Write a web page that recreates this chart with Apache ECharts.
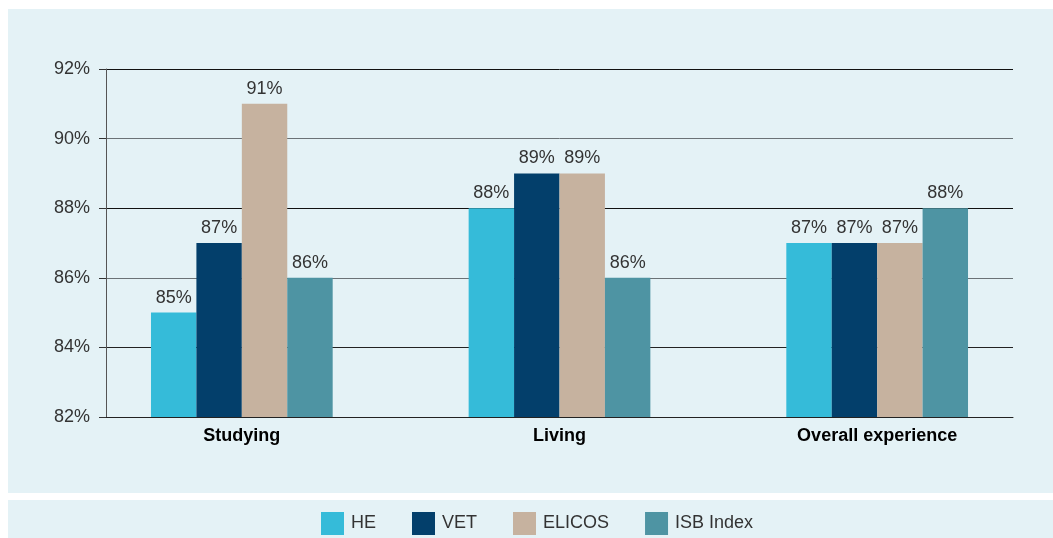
<!DOCTYPE html>
<html>
<head>
<meta charset="utf-8">
<script src="https://cdn.jsdelivr.net/npm/echarts@6/dist/echarts.min.js"></script>
<style>
  html, body { margin: 0; padding: 0; background: #fff; }
  #chart { width: 1053px; height: 538px; }
</style>
</head>
<body>
<div id="chart"></div>
<script>
  var categories = ['Studying', 'Living', 'Overall experience'];
  var seriesNames = ['HE', 'VET', 'ELICOS', 'ISB Index'];
  var heValues = [85, 88, 87];
  var vetValues = [87, 89, 87];
  var elicosValues = [91, 89, 87];
  var isbValues = [86, 86, 88];
  var colors = ['#35bbd9', '#033f6b', '#c6b29f', '#4e94a3'];

  var chart = echarts.init(document.getElementById('chart'));
  var font = '"Liberation Sans", Arial, sans-serif';
  var panel = '#e4f2f6';

  function bar(name, data, color) {
    return {
      name: name,
      type: 'bar',
      xAxisIndex: 1,
      yAxisIndex: 1,
      data: data,
      itemStyle: { color: color },
      barGap: '0%',
      barCategoryGap: '42.8%',
      label: {
        show: true,
        position: 'top',
        distance: 6,
        formatter: '{c}%',
        color: '#333',
        fontSize: 18,
        fontFamily: font
      }
    };
  }

  chart.setOption({
    animation: false,
    backgroundColor: '#fff',
    graphic: [
      { type: 'rect', z: -10, shape: { x: 8, y: 9, width: 1045, height: 484 }, style: { fill: panel } },
      { type: 'rect', z: -10, shape: { x: 8, y: 500, width: 1045, height: 38 }, style: { fill: panel } }
    ],
    grid: [
      { left: 106, right: 40, top: 69, bottom: 121 },
      { left: 83, right: 17, top: 69, bottom: 121 }
    ],
    legend: {
      data: seriesNames,
      left: 316,
      top: 507,
      itemWidth: 23,
      itemHeight: 23,
      itemGap: 36,
      icon: 'rect',
      textStyle: { fontSize: 18, color: '#333', fontFamily: font, padding: [0, 0, 0, 2] }
    },
    xAxis: [
      {
        type: 'value',
        gridIndex: 0,
        min: 0,
        max: 1,
        axisTick: { show: false },
        axisLabel: { show: false },
        splitLine: { show: false },
        axisLine: { show: true, lineStyle: { color: '#222', width: 1 } }
      },
      {
        type: 'category',
        gridIndex: 1,
        data: categories,
        axisTick: { show: false },
        axisLine: { show: false },
        axisLabel: { fontSize: 18, fontWeight: 'bold', color: '#000', fontFamily: font, margin: 10 }
      }
    ],
    yAxis: [
      {
        type: 'value',
        gridIndex: 0,
        min: 82,
        max: 92,
        interval: 2,
        axisLine: { show: true, lineStyle: { color: '#555' } },
        axisTick: { show: true, length: 7, lineStyle: { color: '#333' } },
        axisLabel: { formatter: '{value}%', fontSize: 18, color: '#333', fontFamily: font, margin: 16 },
        splitLine: { lineStyle: { color: ['#111', '#222', '#6b7276', '#111', '#6b7276', '#111'], width: 1 } }
      },
      {
        type: 'value',
        gridIndex: 1,
        min: 82,
        max: 92,
        show: false
      }
    ],
    series: [
      bar(seriesNames[0], heValues, colors[0]),
      bar(seriesNames[1], vetValues, colors[1]),
      bar(seriesNames[2], elicosValues, colors[2]),
      bar(seriesNames[3], isbValues, colors[3])
    ]
  });

  window.onresize = function () {
    chart.resize();
  };
</script>
</body>
</html>
